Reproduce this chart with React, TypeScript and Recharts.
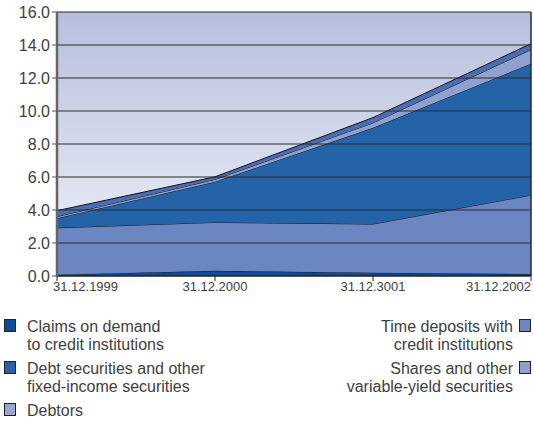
import {
  AreaChart,
  Area,
  XAxis,
  YAxis,
  CartesianGrid,
  ReferenceLine,
} from 'recharts';

const categories = ['31.12.1999', '31.12.2000', '31.12.3001', '31.12.2002'];
const claimsOnDemand = [0.08, 0.32, 0.2, 0.12];
const timeDeposits = [2.84, 2.93, 2.95, 4.78];
const debtSecurities = [0.58, 2.46, 5.83, 7.97];
const sharesVariable = [0.1, 0.14, 0.3, 0.85];
const debtors = [0.36, 0.16, 0.32, 0.36];
const yTicks = [0, 2, 4, 6, 8, 10, 12, 14, 16];

const data = categories.map((date, i) => ({
  date,
  claims: claimsOnDemand[i],
  time: timeDeposits[i],
  debt: debtSecurities[i],
  shares: sharesVariable[i],
  debtors: debtors[i],
}));

const FONT = '"Liberation Sans", Arial, sans-serif';
const TEXT = '#404040';

const layers = [
  { key: 'claims', fill: '#0c4c98' },
  { key: 'time', fill: '#6b86c1' },
  { key: 'debt', fill: '#2563a8' },
  { key: 'shares', fill: '#8fa1ce' },
  { key: 'debtors', fill: '#4b6db3' },
];

// first and last dates hug the plot edges
function DateTick({ x, y, payload, index }: any) {
  const last = categories.length - 1;
  const anchor = index === 0 ? 'start' : index === last ? 'end' : 'middle';
  const dx = index === 0 ? -4 : 0;
  return (
    <text
      x={x + dx}
      y={y + 8}
      textAnchor={anchor}
      fontSize={13}
      fontFamily={FONT}
      fill={TEXT}
    >
      {payload.value}
    </text>
  );
}

function Swatch({ color }: { color: string }) {
  return (
    <span
      style={{
        display: 'block',
        width: 12,
        height: 13,
        background: color,
        border: '1px solid #222',
        boxSizing: 'border-box',
      }}
    />
  );
}

const legendLeft = [
  { color: '#0c4c98', lines: ['Claims on demand', 'to credit institutions'] },
  { color: '#2563a8', lines: ['Debt securities and other', 'fixed-income securities'] },
  { color: '#97a8d4', lines: ['Debtors'] },
];
const legendRight = [
  { color: '#6b86c1', lines: ['Time deposits with', 'credit institutions'] },
  { color: '#8fa1ce', lines: ['Shares and other', 'variable-yield securities'] },
];

const legendText = { fontSize: 16, color: TEXT, lineHeight: '17.5px' };

export default function App() {
  return (
    <div
      style={{
        position: 'absolute',
        left: 0,
        top: 0,
        width: 534,
        height: 423,
        background: '#fff',
        fontFamily: FONT,
      }}
    >
      <AreaChart
        width={534}
        height={300}
        data={data}
        margin={{ top: 12, right: 3, left: 0, bottom: 4 }}
      >
        <defs>
          <linearGradient id="plotBg" x1="0" y1="0" x2="0" y2="1">
            <stop offset="0%" stopColor="#b5bfdd" />
            <stop offset="100%" stopColor="#f2f3f9" />
          </linearGradient>
        </defs>
        <CartesianGrid fill="url(#plotBg)" stroke="none" horizontal={false} vertical={false} />
        <XAxis
          dataKey="date"
          tick={<DateTick />}
          tickLine={{ stroke: '#222' }}
          tickSize={5}
          axisLine={{ stroke: '#222', strokeWidth: 1.5 }}
          interval={0}
          height={20}
        />
        <YAxis
          type="number"
          domain={[0, 16]}
          ticks={yTicks}
          tickFormatter={(v: number) => v.toFixed(1)}
          tick={{ fontSize: 16, fontFamily: FONT, fill: TEXT }}
          tickLine={{ stroke: '#555' }}
          tickSize={5}
          axisLine={{ stroke: '#666', strokeWidth: 2.5 }}
          width={57}
        />
        {layers.map((l) => (
          <Area
            key={l.key}
            type="linear"
            dataKey={l.key}
            stackId="1"
            fill={l.fill}
            fillOpacity={1}
            stroke="#111"
            strokeWidth={1}
            isAnimationActive={false}
          />
        ))}
        {yTicks.slice(1).map((t) => (
          <ReferenceLine key={t} y={t} stroke="#2a2a2a" strokeWidth={1} />
        ))}
        <ReferenceLine x={categories[categories.length - 1]} stroke="#2a2a2a" strokeWidth={1.5} />
      </AreaChart>
      <div style={{ position: 'absolute', left: 4, top: 318, ...legendText }}>
        {legendLeft.map((item, i) => (
          <div key={i} style={{ display: 'flex', alignItems: 'flex-start', marginBottom: 7 }}>
            <div style={{ marginTop: 1, marginRight: 11 }}>
              <Swatch color={item.color} />
            </div>
            <div>
              {item.lines.map((ln) => (
                <div key={ln}>{ln}</div>
              ))}
            </div>
          </div>
        ))}
      </div>
      <div style={{ position: 'absolute', right: 3, top: 318, textAlign: 'right', ...legendText }}>
        {legendRight.map((item, i) => (
          <div key={i} style={{ display: 'flex', alignItems: 'flex-start', justifyContent: 'flex-end', marginBottom: 7 }}>
            <div>
              {item.lines.map((ln) => (
                <div key={ln}>{ln}</div>
              ))}
            </div>
            <div style={{ marginTop: 1, marginLeft: 6 }}>
              <Swatch color={item.color} />
            </div>
          </div>
        ))}
      </div>
    </div>
  );
}
